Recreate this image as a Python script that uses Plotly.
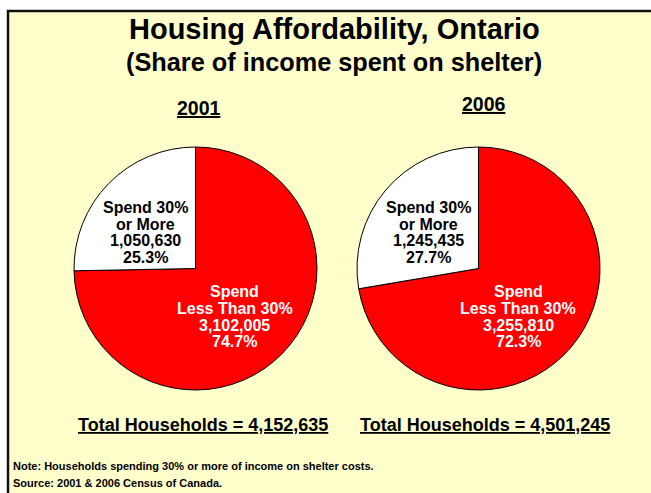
import plotly.graph_objects as go

# ---- data ----
years = ["2001", "2006"]
categories = ["Spend 30%<br>or More", "Spend<br>Less Than 30%"]
values_2001 = [1050630, 3102005]
values_2006 = [1245435, 3255810]
slice_colors = ["#FFFFFF", "#FF0000"]
label_colors = ["#000000", "#FFFFFF"]

title_text = "Housing Affordability, Ontario"
subtitle_text = "(Share of income spent on shelter)"
note_lines = ["Note: Households spending 30% or more of income on shelter costs.",
              "Source: 2001 & 2006 Census of Canada."]

W, H = 651, 493
FONT = "Liberation Sans, Arial, Helvetica, sans-serif"


def px(x):
    return x / W


def py(y):
    return 1 - y / H


fig = go.Figure()

# layout geometry (pixels)
pie_boxes = [((73, 318), (147, 390)), ((355, 602), (147, 390))]
year_pos = [(199, 108), (484, 104)]
total_pos = [(203, 425), (485, 425)]
label_pos = [[(145, 207.5), (235, 291.7)], [(428, 207.5), (518, 291.7)]]
line_step = 16.7

all_values = [values_2001, values_2006]

fig.add_shape(type="rect", xref="paper", yref="paper",
              x0=px(8), x1=1.05, y0=-0.05, y1=py(11),
              fillcolor="#FFFFCC", line=dict(color="#111111", width=2.5), layer="below")

annotations = []
for i, (yr, vals) in enumerate(zip(years, all_values)):
    (x0, x1), (y0, y1) = pie_boxes[i]
    # drawn clockwise from 12 o'clock with the larger (red) slice first,
    # so the "30% or more" slice ends up in the upper-left
    fig.add_trace(go.Pie(
        labels=[c.replace("<br>", " ") for c in categories][::-1],
        values=vals[::-1],
        sort=False,
        direction="clockwise",
        rotation=0,
        marker=dict(colors=slice_colors[::-1], line=dict(color="#000000", width=1)),
        textinfo="none",
        hoverinfo="label+value+percent",
        showlegend=False,
        domain=dict(x=[px(x0), px(x1)], y=[py(y1), py(y0)]),
    ))
    total = sum(vals)
    for j, (cat, v) in enumerate(zip(categories, vals)):
        lines = cat.split("<br>") + [f"{v:,}", f"{v / total * 100:.1f}%"]
        cx, cy = label_pos[i][j]
        for k, ln in enumerate(lines):
            annotations.append(dict(
                x=px(cx), y=py(cy + k * line_step), xref="paper", yref="paper",
                text=ln, showarrow=False, xanchor="center", yanchor="middle",
                borderpad=0,
                font=dict(family=FONT, size=16, color=label_colors[j], weight="bold"),
            ))
    yx, yy = year_pos[i]
    annotations.append(dict(
        x=px(yx), y=py(yy), xref="paper", yref="paper",
        text=f"<u>{yr}</u>", showarrow=False, xanchor="center", yanchor="middle",
        font=dict(family=FONT, size=19.5, color="#000000", weight="bold"),
    ))
    tx, ty = total_pos[i]
    annotations.append(dict(
        x=px(tx), y=py(ty), xref="paper", yref="paper",
        text=f"<u>Total Households = {total:,}</u>", showarrow=False,
        xanchor="center", yanchor="middle",
        font=dict(family=FONT, size=18, color="#000000", weight="bold"),
    ))

annotations.append(dict(
    x=px(335), y=py(29), xref="paper", yref="paper", text=title_text,
    showarrow=False, xanchor="center", yanchor="middle",
    font=dict(family=FONT, size=29, color="#000000", weight="bold"),
))
annotations.append(dict(
    x=px(334), y=py(62), xref="paper", yref="paper", text=subtitle_text,
    showarrow=False, xanchor="center", yanchor="middle",
    font=dict(family=FONT, size=25.3, color="#000000", weight="bold"),
))
for k, ln in enumerate(note_lines):
    annotations.append(dict(
        x=px(12), y=py(466 + k * 16.5), xref="paper", yref="paper", text=ln,
        showarrow=False, xanchor="left", yanchor="middle", borderpad=0,
        font=dict(family=FONT, size=11, color="#000000", weight="bold"),
    ))

fig.update_layout(
    width=W, height=H,
    margin=dict(l=0, r=0, t=0, b=0),
    paper_bgcolor="#FFFFFF",
    plot_bgcolor="#FFFFCC",
    annotations=annotations,
    showlegend=False,
)

fig.write_html("out.html", config={"displayModeBar": False},
               post_script="document.body.style.margin='0';document.body.style.overflow='hidden';")
